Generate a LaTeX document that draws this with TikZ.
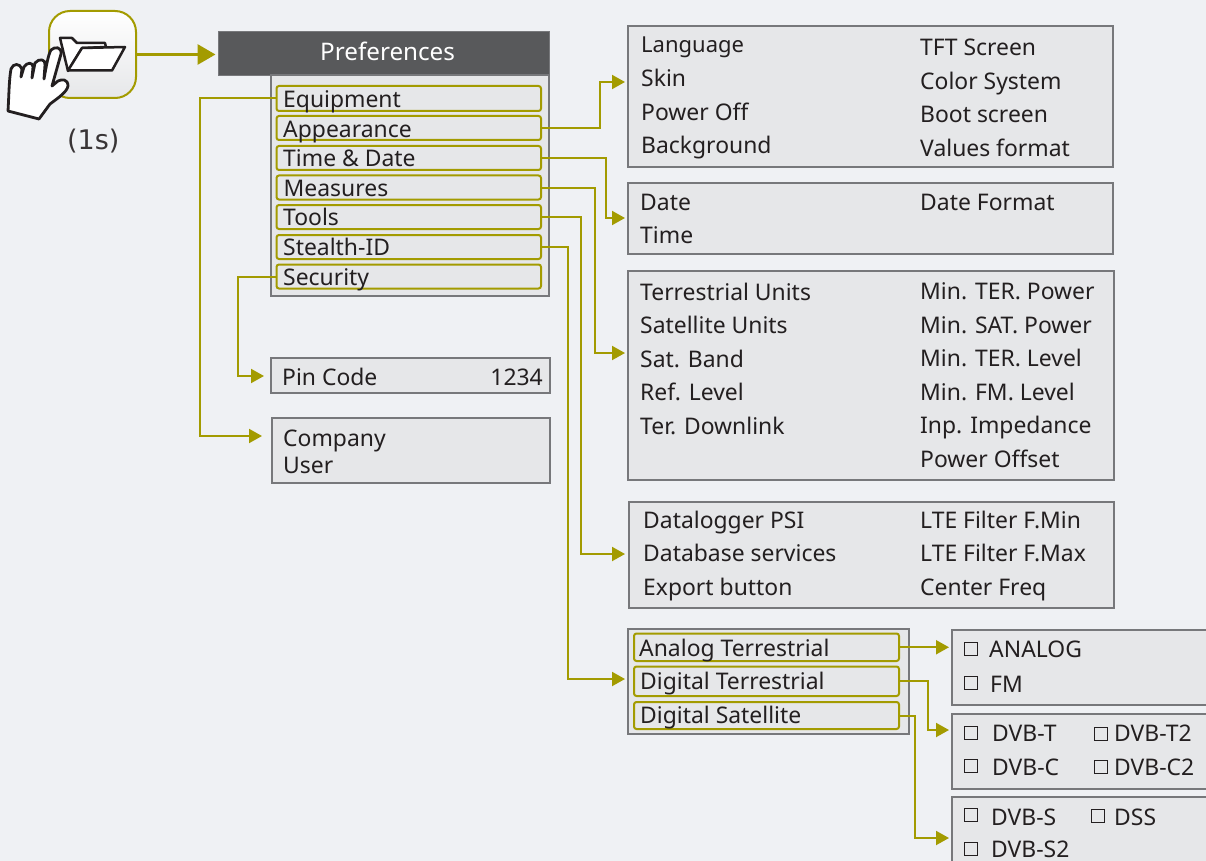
\documentclass[tikz,border=0pt]{standalone}
\usepackage{fontspec}
\setmainfont{Noto Sans}
\newfontfamily\dejafont{DejaVu Sans}
\usetikzlibrary{arrows.meta}
\definecolor{bgc}{HTML}{EFF1F4}
\definecolor{boxc}{HTML}{E6E7E9}
\definecolor{edgec}{HTML}{77787B}
\definecolor{olive}{HTML}{A39B00}
\definecolor{headc}{HTML}{58595B}
\definecolor{inkc}{HTML}{231F20}
\tikzset{
  x=1pt,y=-1pt,
  panel/.style={draw=edgec,line width=1.1pt,fill=boxc,outer sep=0pt},
  item/.style={draw=olive,line width=2pt,fill=boxc,rounded corners=2.5pt,outer sep=0pt},
  txt/.style={anchor=base west,inner sep=0pt,text=inkc,font=\fontsize{22.9}{23}\selectfont},
  conn/.style={draw=olive,line width=2pt,-{Triangle[length=13pt,width=14pt]}},
  tick/.style={draw=inkc,line width=1.8pt,fill=none,outer sep=0pt},
}
\newcommand{\panelbox}[5]{\node[panel,inner sep=0pt,minimum width=#4-#2,minimum height=#5-#3,anchor=north west] (#1) at (#2,#3) {};}
\newcommand{\itembox}[5]{\node[item,inner sep=0pt,minimum width=#4-#2,minimum height=#5-#3,anchor=north west] (#1) at (#2,#3) {};}
\newcommand{\tx}[4]{\node[txt] (#1) at (#2,#3) {#4};}
\newcommand{\chk}[3]{\node[tick,inner sep=0pt,minimum width=13pt,minimum height=13pt,anchor=center] (#1) at (#2,#3) {};}
\begin{document}
\begin{tikzpicture}
\useasboundingbox (0,0) rectangle (1206,861);
\fill[bgc] (0,0) rectangle (1206,861);
% panels
\node[inner sep=0pt,outer sep=0pt,fill=headc,draw=edgec,line width=0.8pt,minimum width=331pt,minimum height=44pt,anchor=north west] (head) at (218,31) {};
\node[txt,text=white,font=\fontsize{24.2}{25}\selectfont] (headtxt) at (320,60.5) {Preferences};
\panelbox{prefs}{271}{75}{549}{296}
\itembox{equip}{276.5}{86}{541}{111}
\itembox{appear}{276.5}{116}{541}{140}
\itembox{timed}{276.5}{146}{541}{170}
\itembox{meas}{276.5}{175.5}{541}{199.5}
\itembox{tools}{276.5}{205}{541}{229}
\itembox{stealth}{276.5}{235}{541}{259}
\itembox{secur}{276.5}{264.5}{541}{288.5}
\tx{t1}{283}{107.7}{Equipment}
\tx{t2}{283}{137.7}{Appearance}
\tx{t3}{283}{166.7}{Time \& Date}
\tx{t4}{283.5}{196.7}{Measures}
\tx{t5}{283}{225}{Tools}
\tx{t6}{283}{255}{Stealth-ID}
\tx{t7}{283}{285}{Security}
\panelbox{pappear}{628}{26}{1113}{167}
\node[txt,font=\fontsize{22}{23}\selectfont] (a1) at (641,53) {Language};
\tx{a2}{641}{87}{Skin}
\tx{a3}{641}{121}{Power Off}
\tx{a4}{641}{154}{Background}
\tx{a5}{920}{55.5}{TFT Screen}
\tx{a6}{920}{90}{Color System}
\tx{a7}{920}{123}{Boot screen}
\tx{a8}{920}{157}{Values format}
\panelbox{pdate}{628}{183}{1113}{254}
\tx{d1}{640}{210}{Date}
\tx{d2}{640}{243}{Time}
\tx{d3}{920}{210}{Date Format}
\panelbox{pmeas}{628}{271}{1114}{480}
\tx{m1}{640}{300}{Terrestrial Units}
\tx{m2}{640}{333}{Satellite Units}
\tx{m3}{640}{367}{Sat. Band}
\tx{m4}{640}{400}{Ref. Level}
\tx{m5}{640}{434}{Ter. Downlink}
\tx{m6}{920}{299}{Min. TER. Power}
\tx{m7}{920}{333}{Min. SAT. Power}
\tx{m8}{920}{366}{Min. TER. Level}
\tx{m9}{920}{400}{Min. FM. Level}
\tx{m10}{920}{433}{Inp. Impedance}
\tx{m11}{920}{467}{Power Offset}
\panelbox{ptools}{629}{502}{1114}{608}
\tx{o1}{643}{528}{Datalogger PSI}
\tx{o2}{643}{561}{Database services}
\tx{o3}{643}{595}{Export button}
\tx{o4}{920}{528}{LTE Filter F.Min}
\tx{o5}{920}{561}{LTE Filter F.Max}
\tx{o6}{920}{595}{Center Freq}
\panelbox{ppin}{271}{358}{550}{393}
\tx{p1}{282}{385}{Pin Code}
\node[txt,anchor=base east] (p2) at (543,385) {1234};
\panelbox{pcomp}{272}{418}{550}{483}
\tx{c1}{283}{446}{Company}
\tx{c2}{283}{473}{User}
\panelbox{pstealth}{628}{629}{909}{734}
\itembox{sa}{634}{633.5}{899}{661}
\itembox{sd}{634}{666.5}{899}{696}
\itembox{ss}{634}{702}{899}{729}
\tx{s1}{639}{656}{Analog Terrestrial}
\tx{s2}{640}{689}{Digital Terrestrial}
\tx{s3}{640}{723}{Digital Satellite}
\panelbox{pana}{952}{630}{1215}{705}
\chk{k1}{971}{649}
\tx{n1}{989}{657.5}{ANALOG}
\chk{k2}{971}{683}
\tx{n2}{990}{692.5}{FM}
\panelbox{pter}{952}{714}{1215}{789}
\chk{k3}{971}{733}
\tx{n3}{992}{741}{DVB-T}
\chk{k4}{1101}{734}
\tx{n4}{1114}{741}{DVB-T2}
\chk{k5}{971}{766}
\tx{n5}{992}{775}{DVB-C}
\chk{k6}{1101}{767}
\tx{n6}{1114}{775}{DVB-C2}
\panelbox{psat}{952}{797}{1215}{880}
\chk{k7}{971}{815}
\tx{n7}{991}{825}{DVB-S}
\chk{k8}{1098}{816}
\tx{n8}{1114}{825}{DSS}
\chk{k9}{971}{849}
\tx{n9}{991}{857}{DVB-S2}
% icon
\node[draw=olive,line width=2pt,rounded corners=21pt,top color=white,bottom color=boxc,inner sep=0pt,outer sep=0pt,minimum width=87pt,minimum height=87pt,anchor=north west] (icon) at (49,11) {};
\node[txt,font=\dejafont\fontsize{27}{27}\selectfont,text=inkc!90!white] (once) at (67,150) {(1s)};
% folder
\begin{scope}[line width=2.5pt,draw=inkc,line join=round]
\draw[fill=white] (68,71) -- (60,38) -- (72,38) -- (77,43) -- (105,43) -- (106,47) -- (82,48) -- cycle;
\draw[fill=white] (68,70.5) -- (82,48) -- (125,47) -- (112,70.5) -- cycle;
\end{scope}
% hand
\draw[line width=2.8pt,draw=inkc,fill=white,line join=round] (8,111) -- (39,119) -- (50,104) .. controls (58,98) and (67,92) .. (68,86) .. controls (68,79) and (62,79) .. (58,81) -- (52,86) -- (61,54) .. controls (62,47) and (55,46) .. (51,50) .. controls (48,55) and (46,68) .. (44,79) -- (45,65) .. controls (46,59) and (39,58) .. (35,63) -- (32,78) -- (33,67) .. controls (33,62) and (27,62) .. (24,67) -- (21,77) -- (22,69) .. controls (20,63) and (13,63) .. (11,69) .. controls (9,80) and (9,95) .. (8,111) -- cycle;
% connectors
\draw[olive,line width=3pt,-{Triangle[length=18pt,width=20pt]},shorten >=2.5pt] (icon.east) -- (icon.east -| head.west);
\coordinate (eA) at (625,82);
\coordinate (eT) at (625,218);
\coordinate (eM) at (625,353);
\coordinate (eO) at (625,554);
\coordinate (eS) at (625,679);
\coordinate (eP) at (264,376);
\coordinate (eC) at (262,436);
\coordinate (e1) at (949,648);
\coordinate (e2) at (949,730);
\coordinate (e3) at (949,838);
\path[conn] (equip.west) -| (200,436) -- (eC);
\path[conn] (secur.west) -| (238,376) -- (eP);
\path[conn] (appear.east) -| (600,82) -- (eA);
\path[conn] (timed.east) -| (606,218) -- (eT);
\path[conn] (meas.east) -| (595,353) -- (eM);
\path[conn] (tools.east) -| (581,554) -- (eO);
\path[conn] (stealth.east) -| (568,679) -- (eS);
\path[conn] (sa.east) -- (sa.east -| e1);
\path[conn] (sd.east) -| (928,730) -- (e2);
\path[conn] (ss.east) -| (915,838) -- (e3);
\end{tikzpicture}
\end{document}
